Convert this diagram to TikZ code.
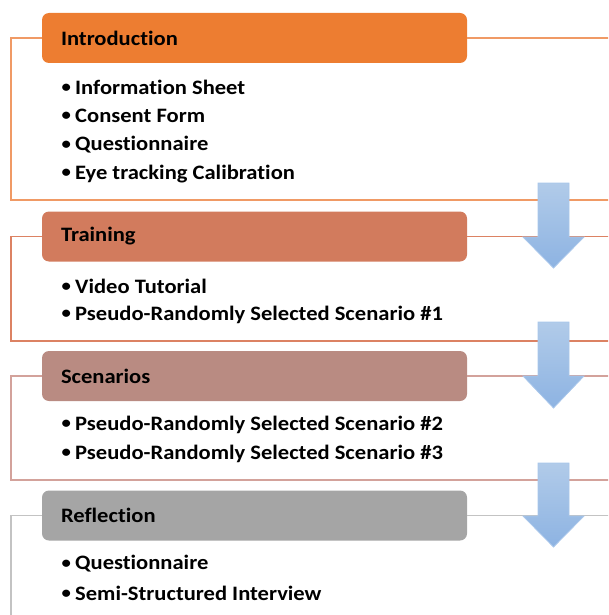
\documentclass[tikz,border=0pt]{standalone}
\usepackage{fontspec}
\setmainfont{Carlito}[FakeStretch=1.1, Ligatures={NoCommon}]
\definecolor{hA}{HTML}{ED7D31}
\definecolor{hB}{HTML}{D27B5D}
\definecolor{hC}{HTML}{B98B82}
\definecolor{hD}{HTML}{A5A5A5}
\definecolor{oA}{HTML}{F09A65}
\definecolor{oB}{HTML}{DC8263}
\definecolor{oC}{HTML}{D3A29B}
\definecolor{oD}{HTML}{C3C3C3}
\definecolor{arT}{HTML}{B1CBE9}
\definecolor{arB}{HTML}{8DB3E2}
\definecolor{arE}{HTML}{A8C6EA}
\tikzset{
  header/.style={draw=none, fill=#1, rounded corners=7pt, minimum width=425pt, minimum height=50pt,
    text width=387pt, inner xsep=19pt, align=left, font=\fontsize{20.5}{24}\selectfont\bfseries},
  item/.style={anchor=west, inner sep=0pt, font=\fontsize{20.5}{24}\selectfont\bfseries},
  outline/.style={draw=#1, line width=1.1pt},
  flowarrow/.style={top color=arT, bottom color=arB, draw=arE, line width=0.8pt}
}
\newcommand{\bul}[1]{\makebox[14pt][l]{\hspace{0.5pt}\raisebox{1.8pt}{\fontsize{17}{20}\selectfont\textbullet}}#1}
\begin{document}
\begin{tikzpicture}[x=1pt,y=-1pt]
\useasboundingbox (0,0) rectangle (608,615);
\clip (0,0) rectangle (608,615);
% headers
\node[header=hA] (h1) at (254.5,38) {Introduction};
\node[header=hB] (h2) at (254.5,236.5) {Training};
\node[header=hC] (h3) at (254.5,376) {Scenarios};
\node[header=hD] (h4) at (254.5,515.5) {Reflection};
% outline corners
\coordinate (b1l) at (11,200);  \coordinate (b1r) at (620,200);
\coordinate (b2l) at (11,341);  \coordinate (b2r) at (620,341);
\coordinate (b3l) at (11,480);  \coordinate (b3r) at (620,480);
\coordinate (b4l) at (11,630);  \coordinate (b4r) at (620,630);
\draw[outline=oA] (h1.west) -| (b1l) -- (b1r) |- (h1.east);
\draw[outline=oB] (h2.west) -| (b2l) -- (b2r) |- (h2.east);
\draw[outline=oC] (h3.west) -| (b3l) -- (b3r) |- (h3.east);
\draw[outline=oD] (h4.west) -| (b4l) -- (b4r) |- (h4.east);
% items
\node[item] (i11) at (61,87) {\bul{Information Sheet}};
\node[item] (i12) at (61,116) {\bul{Consent Form}};
\node[item] (i13) at (61,145) {\bul{Questionnaire}};
\node[item] (i14) at (61,174) {\bul{Eye tracking Calibration}};
\node[item] (i21) at (61,286) {\bul{Video Tutorial}};
\node[item] (i22) at (61,315) {\bul{Pseudo-Randomly Selected Scenario \#1}};
\node[item] (i31) at (61,425) {\bul{Pseudo-Randomly Selected Scenario \#2}};
\node[item] (i32) at (61,454) {\bul{Pseudo-Randomly Selected Scenario \#3}};
\node[item] (i41) at (61,564) {\bul{Questionnaire}};
\node[item] (i42) at (61,593) {\bul{Semi-Structured Interview}};
% arrows
\foreach \t/\b/\p in {183/237/268, 322/376/408, 463/516/547}{
  \draw[flowarrow] (538,\t) -- (569,\t) -- (569,\b) -- (584,\b) -- (553.5,\p) -- (523,\b) -- (538,\b) -- cycle;
}
\end{tikzpicture}
\end{document}
